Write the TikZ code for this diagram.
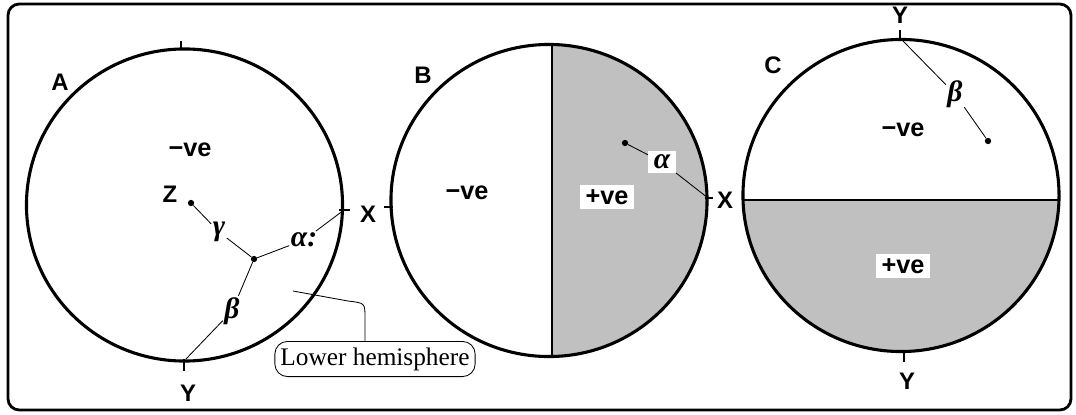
\documentclass[tikz,border=0pt]{standalone}
\usepackage{fontspec}
\setmainfont{Liberation Serif}
\setsansfont{Liberation Sans}
\definecolor{halfgray}{HTML}{C0C0C0}

\begin{document}
\begin{tikzpicture}[x=0.025cm,y=-0.025cm,
lbl/.style={font=\sffamily\bfseries\fontsize{17}{20}\selectfont,inner sep=1pt},
sgn/.style={font=\sffamily\bfseries\fontsize{18}{20}\selectfont,inner sep=2pt},
wbox/.style={fill=white,inner xsep=4pt,inner ysep=3pt},
grk/.style={font=\rmfamily\bfseries\itshape\fontsize{21}{24}\selectfont,inner sep=1pt},
pt/.style={circle,fill,inner sep=0pt,minimum size=4.5pt},
rim/.style={line width=2.2pt},
tck/.style={line width=1pt},
lead/.style={line width=0.6pt},
net/.style={x radius=3.95cm,y radius=3.9cm}]
\useasboundingbox (0,0) rectangle (1076,414);
\draw[line width=2pt,rounded corners=8pt] (8,4) rectangle (1071,410);

% net A
\coordinate (cA) at (184.5,205);
\draw[rim] (cA) ellipse[net];
\draw[tck] (181,41) -- (181,50);
\draw[tck] (339,210) -- (350,210);
\draw[tck] (184,359) -- (184,371);
\node[lbl] (labA) at (60,82) {A};
\node[sgn] (negA) at (190,150) {−ve};
\node[lbl] (xA) at (368,214) {X};
\node[lbl] (yA) at (188,393) {Y};
\node[lbl] (zA) at (170,194) {Z};
\node[pt] (zdot) at (191,203) {};
\node[pt] (jdot) at (254,259) {};
\node[grk] (gam) at (219,232) {γ};
\node[grk] (alA) at (304,240) {α:};
\node[grk] (beA) at (232,311) {β};
\coordinate (xtA) at (344,210);
\coordinate (ytA) at (186,359);
\draw[lead] (zdot) -- (gam);
\draw[lead] (gam) -- (jdot);
\draw[lead] (jdot) -- (alA);
\draw[lead] (alA) -- (xtA);
\draw[lead] (jdot) -- (beA);
\draw[lead] (beA) -- (ytA);

% lower hemisphere callout
\node[draw,lead,rounded corners=9pt,font=\fontsize{18}{21}\selectfont,inner xsep=4pt,minimum height=25pt] (lower) at (375,359) {Lower hemisphere};
\coordinate (lh) at (293,291);
\coordinate (lhk) at (365,318);
\draw[lead] (lh) -- (348,301) .. controls (365,303) .. (lhk) -- (lhk |- lower.north);

% net B
\coordinate (cB) at (549,200.5);
\begin{scope}
\clip (cB) ellipse[net];
\fill[halfgray] (552,0) rectangle (720,414);
\draw[tck] (552,0) -- (552,414);
\end{scope}
\draw[rim] (cB) ellipse[net];
\draw[tck] (384,207) -- (393,207);
\draw[tck] (705,198) -- (713,198);
\node[lbl] (labB) at (423,75) {B};
\node[sgn] (negB) at (467,193) {−ve};
\node[sgn,wbox] (posB) at (607,197) {+ve};
\node[grk,wbox] (alB) at (662,162) {α};
\node[pt] (dotB) at (625,143) {};
\node[lbl] (xB) at (725,200) {X};
\coordinate (xtB) at (708,198);
\draw[lead] (dotB) -- (alB);
\draw[lead] (alB) -- (xtB);

% net C
\coordinate (cC) at (901,195.5);
\begin{scope}
\clip (cC) ellipse[net];
\fill[halfgray] (700,200) rectangle (1076,414);
\draw[tck] (700,200) -- (1076,200);
\end{scope}
\draw[rim] (cC) ellipse[net];
\draw[tck] (900,30) -- (900,40);
\draw[tck] (904,351) -- (904,362);
\node[lbl] (labC) at (773,65) {C};
\node[lbl] (yCt) at (900,15) {Y};
\node[lbl] (yCb) at (907,381) {Y};
\node[sgn] (negC) at (903,130) {−ve};
\node[sgn,wbox] (posC) at (903,266) {+ve};
\node[grk] (beC) at (955,94) {β};
\node[pt] (dotC) at (988,141) {};
\coordinate (ytC) at (903,41);
\draw[lead] (ytC) -- (beC);
\draw[lead] (beC) -- (dotC);
\end{tikzpicture}
\end{document}
